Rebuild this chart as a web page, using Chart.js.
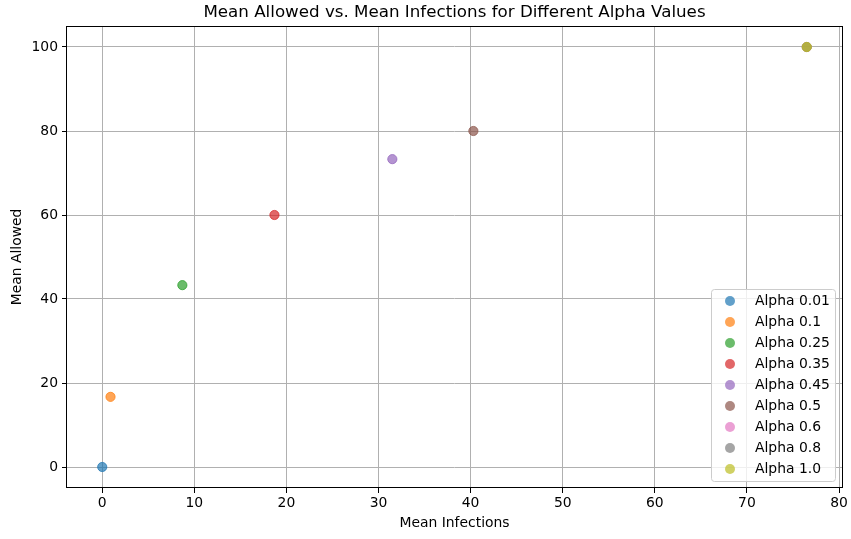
<!DOCTYPE html>
<html>
<head>
<meta charset="utf-8">
<script src="https://cdn.jsdelivr.net/npm/chart.js@4.4.0/dist/chart.umd.min.js"></script>
<style>
  html, body { margin: 0; padding: 0; background: #fff; }
  canvas { display: block; }
</style>
</head>
<body>
<canvas id="chart" width="851" height="539"></canvas>
<script>
// values
const alphaLabels = ['Alpha 0.01', 'Alpha 0.1', 'Alpha 0.25', 'Alpha 0.35', 'Alpha 0.45', 'Alpha 0.5', 'Alpha 0.6', 'Alpha 0.8', 'Alpha 1.0']
const meanInfections = [0, 0.9, 8.7, 18.7, 31.5, 40.3, 76.5, 76.5, 76.5]
const meanAllowed = [0, 16.7, 43.3, 60, 73.3, 80, 100, 100, 100]
const colors = ['#1f77b4', '#ff7f0e', '#2ca02c', '#d62728', '#9467bd', '#8c564b', '#e377c2', '#7f7f7f', '#bcbd22']
const xTicks = [0, 10, 20, 30, 40, 50, 60, 70, 80]
const yTicks = [0, 20, 40, 60, 80, 100]

const FONT = 'DejaVu Sans'

function rgba(hex, a) {
  const n = parseInt(hex.slice(1), 16)
  return `rgba(${n >> 16}, ${(n >> 8) & 255}, ${n & 255}, ${a})`
}

// later series drawn on top, like matplotlib
const datasets = alphaLabels.map((label, i) => ({
  label,
  data: [{ x: meanInfections[i], y: meanAllowed[i] }],
  backgroundColor: rgba(colors[i], 0.7),
  borderColor: rgba(colors[i], 0.75),
  borderWidth: 1,
  pointRadius: 4.6,
  pointHoverRadius: 4.6,
  order: alphaLabels.length - i
}))

// title, axis labels, full frame and legend
const decor = {
  id: 'decor',
  afterDatasetsDraw(chart) {
    const { ctx, chartArea: a } = chart
    ctx.save()
    ctx.strokeStyle = '#000'
    ctx.lineWidth = 1
    ctx.strokeRect(66.5, 26.5, 776, 461)

    const cx = (a.left + a.right) / 2
    ctx.fillStyle = '#000'
    ctx.textAlign = 'center'
    ctx.textBaseline = 'middle'
    ctx.font = `16.7px ${FONT}`
    ctx.fillText('Mean Allowed vs. Mean Infections for Different Alpha Values', cx, 13)
    ctx.font = `13.9px ${FONT}`
    ctx.fillText('Mean Infections', cx, 523)
    ctx.save()
    ctx.translate(17, (a.top + a.bottom) / 2)
    ctx.rotate(-Math.PI / 2)
    ctx.fillText('Mean Allowed', 0, 0)
    ctx.restore()

    // legend box
    const lx = 711, ly = 289, lw = 124, lh = 192
    ctx.beginPath()
    ctx.roundRect(lx + 0.5, ly + 0.5, lw, lh, 3)
    ctx.fillStyle = 'rgba(255,255,255,0.8)'
    ctx.fill()
    ctx.strokeStyle = '#cccccc'
    ctx.stroke()
    ctx.textAlign = 'left'
    alphaLabels.forEach((label, i) => {
      const y = 301 + i * 21
      ctx.beginPath()
      ctx.arc(730, y, 5, 0, Math.PI * 2)
      ctx.fillStyle = rgba(colors[i], 0.7)
      ctx.fill()
      ctx.fillStyle = '#000'
      ctx.fillText(label, 755, y)
    })
    ctx.restore()
  }
}

const keepTicks = list => scale => {
  scale.ticks = list.map(v => ({ value: v }))
}

new Chart(document.getElementById('chart').getContext('2d'), {
  type: 'scatter',
  data: { datasets },
  options: {
    responsive: false,
    animation: false,
    events: [],
    layout: { padding: { top: 26, right: 9, left: 0, bottom: 0 } },
    plugins: {
      legend: { display: false },
      title: { display: false },
      tooltip: { enabled: false }
    },
    scales: {
      x: {
        type: 'linear',
        min: -3.825,
        max: 80.325,
        afterBuildTicks: keepTicks(xTicks),
        afterFit: scale => { scale.height = 51 },
        grid: { color: '#b0b0b0', tickColor: '#000', tickLength: 5, lineWidth: 1 },
        border: { display: false },
        ticks: { color: '#000', font: { family: FONT, size: 13.9 }, padding: 2, maxRotation: 0 }
      },
      y: {
        type: 'linear',
        min: -5,
        max: 105,
        afterBuildTicks: keepTicks(yTicks),
        afterFit: scale => { scale.width = 67 },
        grid: { color: '#b0b0b0', tickColor: '#000', tickLength: 5, lineWidth: 1 },
        border: { display: false },
        ticks: { color: '#000', font: { family: FONT, size: 13.9 }, padding: 4 }
      }
    }
  },
  plugins: [decor]
})
</script>
</body>
</html>
